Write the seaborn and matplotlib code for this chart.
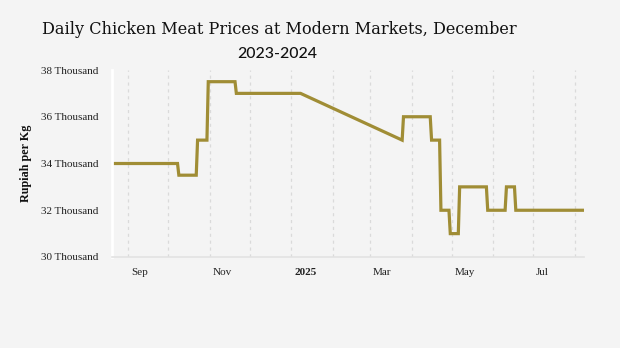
import matplotlib
matplotlib.use("Agg")
import matplotlib.pyplot as plt
import matplotlib.dates as mdates
import matplotlib.transforms as mtransforms
import pandas as pd
import seaborn as sns

# Price observations at each level change (Rupiah per Kg)
dates = [
    "2024-08-20", "2024-10-08", "2024-10-09", "2024-10-22", "2024-10-23",
    "2024-10-30", "2024-10-31", "2024-11-20", "2024-11-21", "2025-01-08",
    "2025-03-25", "2025-03-26", "2025-04-15", "2025-04-16", "2025-04-22",
    "2025-04-23", "2025-04-29", "2025-04-30", "2025-05-06", "2025-05-07",
    "2025-05-27", "2025-05-28", "2025-06-10", "2025-06-11", "2025-06-17",
    "2025-06-18", "2025-08-08",
]
prices = [
    34000, 34000, 33500, 33500, 35000,
    35000, 37500, 37500, 37000, 37000,
    35000, 36000, 36000, 35000, 35000,
    32000, 32000, 31000, 31000, 33000,
    33000, 32000, 32000, 33000, 33000,
    32000, 32000,
]
y_ticks = [30000, 32000, 34000, 36000, 38000]
y_tick_labels = ["30 Thousand", "32 Thousand", "34 Thousand", "36 Thousand", "38 Thousand"]

title_line1 = "Daily Chicken Meat Prices at Modern Markets, December"
title_line2 = "2023-2024"
y_title = "Rupiah per Kg"

df = pd.DataFrame({"date": pd.to_datetime(dates), "price": prices})

bg = "#f4f4f4"
sns.set_theme(style="white")
plt.rcParams["font.family"] = ["Liberation Serif", "DejaVu Serif"]

fig = plt.figure(figsize=(6.2, 3.48), dpi=100, facecolor=bg)
ax = fig.add_axes([112 / 620, 91 / 348, 472 / 620, 187 / 348])
ax.set_facecolor(bg)

sns.lineplot(data=df, x="date", y="price", ax=ax, color="#a08d35",
             linewidth=2.3, solid_joinstyle="miter")

ax.set_xlim(df["date"].min(), df["date"].max())
ax.set_ylim(30000, 38000)

# Month gridlines
ax.xaxis.set_minor_locator(mdates.MonthLocator())
ax.xaxis.set_major_locator(mdates.MonthLocator(bymonth=[1, 3, 5, 7, 9, 11]))


def month_fmt(x, pos=None):
    d = mdates.num2date(x)
    return str(d.year) if d.month == 1 else d.strftime("%b")


ax.xaxis.set_major_formatter(plt.FuncFormatter(month_fmt))
ax.grid(True, axis="x", which="both", color="#dadada", linestyle=(0, (2.5, 3)),
        linewidth=0.9)
ax.grid(False, axis="y")
ax.set_axisbelow(True)

ax.tick_params(axis="x", which="major", length=4, color="#dedede", width=0.9,
               labelsize=8, pad=4, labelcolor="#222222")
ax.tick_params(axis="x", which="minor", length=0)
offset = mtransforms.ScaledTranslation(3 / 100, 0, fig.dpi_scale_trans)
for lbl in ax.get_xticklabels():
    lbl.set_horizontalalignment("left")
    lbl.set_transform(lbl.get_transform() + offset)
    if lbl.get_text().isdigit():
        lbl.set_fontweight("bold")

ax.set_yticks(y_ticks)
ax.set_yticklabels(y_tick_labels)
ax.tick_params(axis="y", length=4, color="white", width=1.5, labelsize=8,
               pad=6, labelcolor="#222222")

for s in ["top", "right"]:
    ax.spines[s].set_visible(False)
ax.spines["left"].set_color("white")
ax.spines["left"].set_linewidth(2)
ax.spines["bottom"].set_color("#e2e2e2")
ax.spines["bottom"].set_linewidth(1.2)

ax.set_xlabel("")
ax.set_ylabel(y_title, fontsize=8.7, fontweight="bold", labelpad=6.5, color="#111111")

fig.text(279 / 620, 1 - 30 / 348, title_line1, ha="center", va="center",
         fontsize=11.6, family=["DejaVu Serif"], color="#111111")
fig.text(277 / 620, 1 - 54 / 348, title_line2, ha="center", va="center",
         fontsize=11.4, family=["Lato", "DejaVu Sans"], fontweight="medium",
         color="#111111")

fig.savefig("out.png", dpi=100, facecolor=bg)
